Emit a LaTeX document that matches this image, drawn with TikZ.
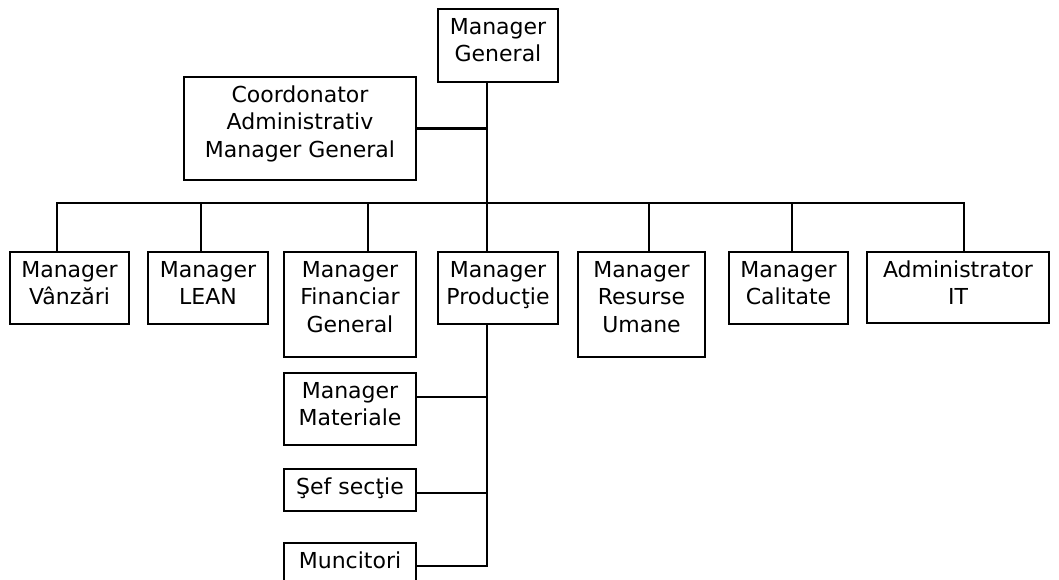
\documentclass[tikz,border=0pt]{standalone}
\usepackage{fontspec}
\setmainfont{DejaVu Sans}
% text block of fixed size, lines centred and hung from the top
\newcommand{\cellbox}[3]{\parbox[c][#2][t]{#1}{\centering\vspace*{6pt}\strut #3}}
\begin{document}
\begin{tikzpicture}[x=1pt,y=-1pt,
  orgbox/.style={draw=black, line width=2.1pt, inner sep=0pt, fill=white,
    font=\fontsize{22}{27.5}\selectfont},
  link/.style={draw=black, line width=2.1pt, line join=miter}]
\clip (0,0) rectangle (1059,580);
\fill[white] (0,0) rectangle (1059,580);

% top level
\node[orgbox] (mg)    at (498,45.5)  {\cellbox{120pt}{73pt}{Manager\\General}};
\node[orgbox] (coord) at (300,128.5) {\cellbox{232pt}{103pt}{Coordonator\\Administrativ\\Manager General}};

% second level
\node[orgbox] (vz)   at (69.5,288)  {\cellbox{119pt}{72pt}{Manager\\Vânzări}};
\node[orgbox] (lean) at (208,288)   {\cellbox{120pt}{72pt}{Manager\\LEAN}};
\node[orgbox] (fin)  at (350,304.5) {\cellbox{132pt}{105pt}{Manager\\Financiar\\General}};
\node[orgbox] (prod) at (498,288)   {\cellbox{120pt}{72pt}{Manager\\Producţie}};
\node[orgbox] (hr)   at (641.5,304.5) {\cellbox{127pt}{105pt}{Manager\\Resurse\\Umane}};
\node[orgbox] (cal)  at (788.5,288) {\cellbox{119pt}{72pt}{Manager\\Calitate}};
\node[orgbox] (it)   at (958,287.5) {\cellbox{182pt}{71pt}{Administrator\\IT}};

% production branch
\node[orgbox] (mat)  at (350,409)   {\cellbox{132pt}{72pt}{Manager\\Materiale}};
\node[orgbox] (sef)  at (350,490)   {\cellbox{132pt}{42pt}{Şef secţie}};
\node[orgbox] (munc) at (350,566.5) {\cellbox{132pt}{47pt}{Muncitori}};

% junction points
\coordinate (spine) at (487,0);
\coordinate (b1) at (57,203);
\coordinate (b2) at (201,203);
\coordinate (b3) at (368,203);
\coordinate (b5) at (649,203);
\coordinate (b6) at (792,203);
\coordinate (b7) at (964,203);
\coordinate (jmat)  at (487,397);
\coordinate (jsef)  at (487,493);
\coordinate (jmunc) at (487,566);

% main trunk and coordinator
\draw[link] (mg.south -| spine) -- (prod.north -| spine);
\draw[link] (coord.east) -- (coord.east -| spine);

% horizontal bus with drops
\draw[link] (vz.north -| b1) -- (b1) -- (b7) -- (it.north -| b7);
\draw[link] (b2) -- (lean.north -| b2);
\draw[link] (b3) -- (fin.north -| b3);
\draw[link] (b5) -- (hr.north -| b5);
\draw[link] (b6) -- (cal.north -| b6);

% production branch
\draw[link] (prod.south -| spine) -- (jmunc) -- (munc.east |- jmunc);
\draw[link] (mat.east |- jmat) -- (jmat);
\draw[link] (sef.east |- jsef) -- (jsef);
\end{tikzpicture}
\end{document}
